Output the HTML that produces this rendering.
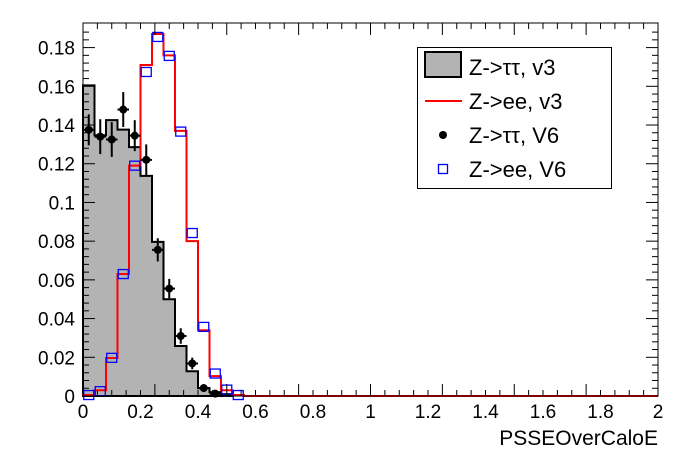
<!DOCTYPE html>
<html><head><style>body{margin:0;background:#fff}svg{display:block}</style></head>
<body>
<svg id="s" width="696" height="472" xmlns="http://www.w3.org/2000/svg" font-family="Liberation Sans, sans-serif"></svg>
<script>
const s=document.getElementById('s');
const X0=83,X1=658,Y0=396,YT=23;
const px=v=>X0+v*(X1-X0)/2, py=v=>Y0-v*1935.6;
let h='';
const gray=[0.1605,0.1347,0.1425,0.1376,0.1286,0.1137,0.0796,0.05,0.0258,0.0128,0.0041,0.002,0.001];
const red=[0.0005,0.003,0.0196,0.063,0.119,0.171,0.187,0.176,0.137,0.080,0.034,0.0103,0.003,0.0005];
const blue=[0.0005,0.0025,0.0197,0.063,0.119,0.1674,0.1855,0.1757,0.1366,0.0842,0.0357,0.0116,0.0033,0.0005];
const blk=[0.1375,0.134,0.1325,0.148,0.1345,0.122,0.0755,0.0555,0.031,0.0168,0.0041,0.0012];
const berr=[0.008,0.009,0.009,0.009,0.008,0.008,0.006,0.005,0.004,0.003,0.002,0.001];
function step(a,close){let d=`M${px(0)},${py(0)}`;a.forEach((v,i)=>{d+=`L${px(i*0.04)},${py(v)}L${px((i+1)*0.04)},${py(v)}`});d+=`L${px(a.length*0.04)},${py(0)}`;return d;}
h+=`<path d="${step(gray)}Z" fill="#b3b3b3" stroke="#000" stroke-width="2"/>`;
let rd=step(red)+`L${X1},${py(0)}`;
h+=`<path d="${rd}" fill="none" stroke="#f00" stroke-width="2"/>`;
blk.forEach((v,i)=>{const x=px(i*0.04+0.02),y=py(v),e=berr[i]*1935.6;
h+=`<line x1="${x}" y1="${y-e}" x2="${x}" y2="${y+e}" stroke="#000" stroke-width="2"/><line x1="${x-5.75}" y1="${y}" x2="${x+5.75}" y2="${y}" stroke="#000" stroke-width="2"/><circle cx="${x}" cy="${y}" r="4" fill="#000"/>`;});
blue.forEach((v,i)=>{const x=px(i*0.04+0.02),y=py(v);h+=`<rect x="${x-5}" y="${y-4.5}" width="10" height="9" fill="none" stroke="#00f" stroke-width="1.3"/>`;});
h+=`<rect x="${X0}" y="${YT}" width="${X1-X0}" height="${Y0-YT}" fill="none" stroke="#000" stroke-width="1"/>`;
for(let i=0;i<=40;i++){const x=px(i*0.05),L=i%5==0?12:6;h+=`<line x1="${x}" y1="${Y0}" x2="${x}" y2="${Y0-L}" stroke="#000"/><line x1="${x}" y1="${YT}" x2="${x}" y2="${YT+L}" stroke="#000"/>`;
if(i%4==0){const v=i*0.05;h+=`<text x="${x}" y="418" font-size="19" text-anchor="middle">${+v.toFixed(1)}</text>`;}}
for(let i=0;i*0.004<=0.1901;i++){const y=py(i*0.004),L=i%5==0?12:6;h+=`<line x1="${X0}" y1="${y}" x2="${X0+L}" y2="${y}" stroke="#000"/><line x1="${X1}" y1="${y}" x2="${X1-L}" y2="${y}" stroke="#000"/>`;
if(i%5==0){const v=i*0.004;h+=`<text x="75" y="${y+7}" font-size="19" text-anchor="end">${+v.toFixed(2)}</text>`;}}
h+=`<text x="658" y="445" font-size="21" text-anchor="end">PSSEOverCaloE</text>`;
h+=`<rect x="417.5" y="47.5" width="194" height="141" fill="#fff" stroke="#000"/>`;
h+=`<rect x="425" y="52" width="36" height="25" fill="#b3b3b3" stroke="#000" stroke-width="2"/>`;
h+=`<line x1="425" y1="101" x2="462" y2="101" stroke="#f00" stroke-width="2"/>`;
h+=`<circle cx="443" cy="135" r="4" fill="#000"/>`;
h+=`<rect x="438.5" y="164.5" width="9" height="9" fill="none" stroke="#00f" stroke-width="1.3"/>`;
[["Z-&gt;ττ, v3",67],["Z-&gt;ee, v3",101],["Z-&gt;ττ, V6",135],["Z-&gt;ee, V6",169]].forEach(([t,y])=>{h+=`<text x="469" y="${y+8}" font-size="22">${t}</text>`});
s.innerHTML=h;
</script>
</body></html>
